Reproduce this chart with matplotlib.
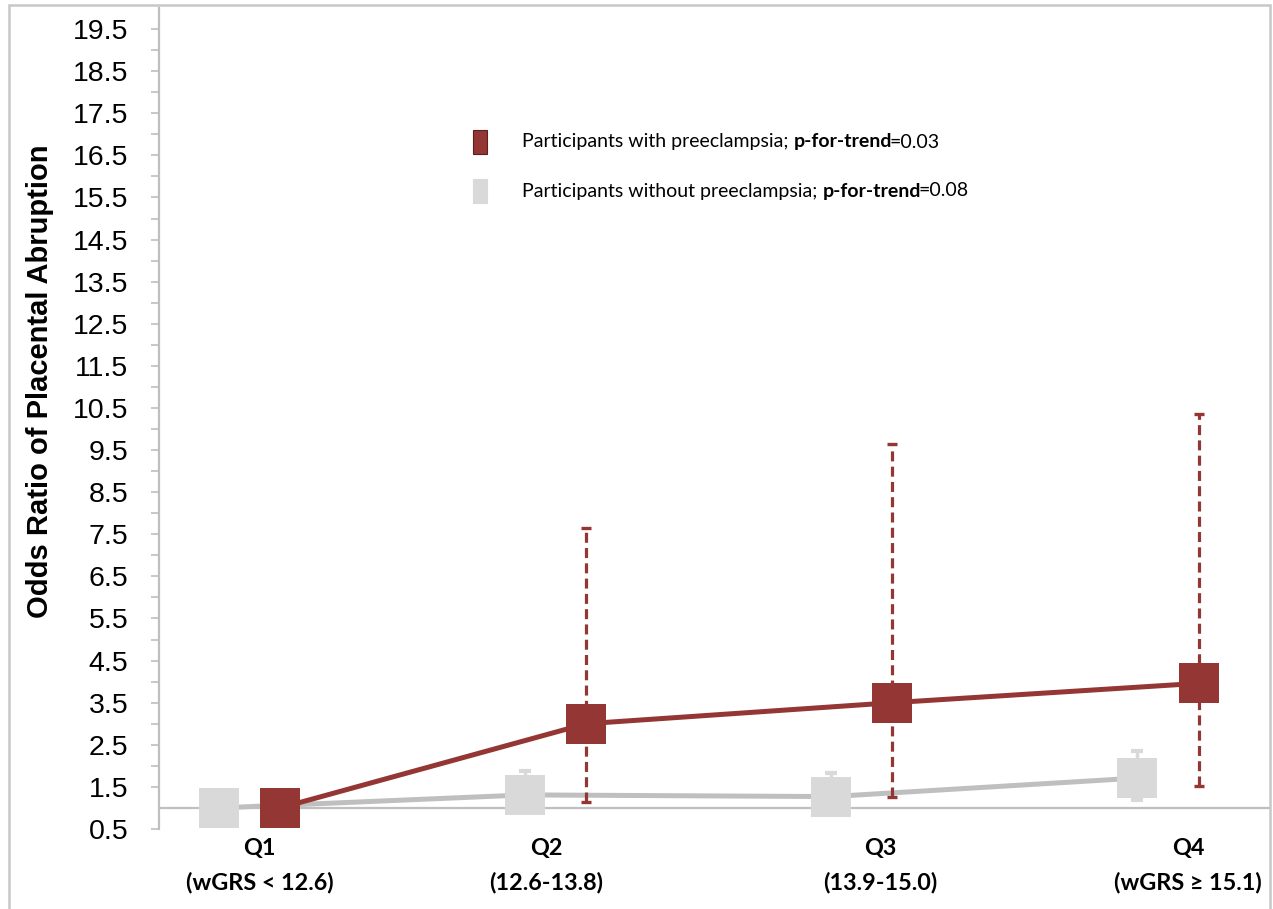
import matplotlib
matplotlib.use("Agg")
import matplotlib.pyplot as plt
from matplotlib.patches import Rectangle
from matplotlib.ticker import FixedLocator, FuncFormatter

plt.rcParams["lines.scale_dashes"] = False

# ---- data -------------------------------------------------------------
quartiles = ["Q1", "Q2", "Q3", "Q4"]
quartile_ranges = ["(wGRS < 12.6)", "(12.6-13.8)", "(13.9-15.0)", "(wGRS \u2265 15.1)"]

or_with_pe = [1.0, 3.0, 3.5, 3.96]
ci_low_with_pe = [None, 1.14, 1.26, 1.52]
ci_high_with_pe = [None, 7.66, 9.65, 10.36]

or_without_pe = [1.0, 1.31, 1.27, 1.71]
ci_low_without_pe = [None, 1.0, 1.0, 1.19]
ci_high_without_pe = [None, 1.88, 1.83, 2.35]

legend_labels = [
    ("Participants with preeclampsia; ", "p-for-trend", "=0.03"),
    ("Participants without preeclampsia; ", "p-for-trend", "=0.08"),
]
y_label = "Odds Ratio of Placental Abruption"

# ---- style ------------------------------------------------------------
RED = "#943634"
GREY_MARK = "#d9d9d9"
GREY_LINE = "#bfbfbf"
AXIS_GREY = "#bfbfbf"
W, H = 1273, 909

fig = plt.figure(figsize=(W / 100, H / 100), dpi=100)
ax = fig.add_axes([159 / W, 1 - 829 / H, (1270 - 159) / W, (829 - 8) / H])

x = list(range(len(quartiles)))
off = 0.1
x_grey = [i - off for i in x]
x_red = [i + off for i in x]

# series without preeclampsia
ax.plot(x_grey, or_without_pe, color=GREY_LINE, lw=3.6, zorder=3,
        solid_capstyle="butt")
eb_idx = [i for i in x if ci_low_without_pe[i] is not None]
ax.errorbar([x_grey[i] for i in eb_idx], [or_without_pe[i] for i in eb_idx],
            yerr=[[or_without_pe[i] - ci_low_without_pe[i] for i in eb_idx],
                  [ci_high_without_pe[i] - or_without_pe[i] for i in eb_idx]],
            fmt="none", ecolor=GREY_MARK, elinewidth=2.5, capsize=4,
            capthick=3, zorder=3)
ax.plot(x_grey, or_without_pe, ls="none", marker="s", ms=28.5, mew=0,
        color=GREY_MARK, zorder=4)

# series with preeclampsia
ax.plot(x_red, or_with_pe, color=RED, lw=3.6, zorder=5,
        solid_capstyle="butt")
eb_idx = [i for i in x if ci_low_with_pe[i] is not None]
_, caps, bars = ax.errorbar(
    [x_red[i] for i in eb_idx], [or_with_pe[i] for i in eb_idx],
    yerr=[[or_with_pe[i] - ci_low_with_pe[i] for i in eb_idx],
          [ci_high_with_pe[i] - or_with_pe[i] for i in eb_idx]],
    fmt="none", ecolor=RED, elinewidth=2.3, capsize=3.4, capthick=2.4,
    zorder=5)
for b in bars:
    b.set_linestyle((0, (7.2, 3.8)))
ax.plot(x_red, or_with_pe, ls="none", marker="s", ms=28.5, mew=0,
        color=RED, zorder=6)

# ---- axes -------------------------------------------------------------
ax.set_xlim(-0.295, 3.333)
ax.set_ylim(0.5, 20.0)
for s in ("top", "right"):
    ax.spines[s].set_visible(False)
ax.spines["bottom"].set_position(("data", 1.0))
ax.spines["bottom"].set_color(AXIS_GREY)
ax.spines["bottom"].set_linewidth(1.6)
ax.spines["left"].set_color(AXIS_GREY)
ax.spines["left"].set_linewidth(1.6)
ax.spines["bottom"].set_zorder(1)

ax.set_xticks([])
ax.yaxis.set_major_locator(FixedLocator([v + 0.5 for v in range(20)]))
ax.yaxis.set_minor_locator(FixedLocator([float(v) for v in range(2, 20)]))
ax.yaxis.set_major_formatter(FuncFormatter(lambda v, p: f"{v:.1f}"))
ax.tick_params(axis="y", which="both", direction="out", length=6,
               width=1.2, color=AXIS_GREY)
ax.tick_params(axis="y", which="major", pad=16, labelsize=20.5)
for lab in ax.get_yticklabels():
    lab.set_family("Liberation Sans")

fig.text(40 / W, 1 - 381 / H, y_label, rotation=90, ha="center",
         va="center", family="Liberation Sans", fontweight="bold",
         fontsize=21)

# category labels under the axis
label_shift = [0.033, -0.03, 0.06, 0.065]
for i, (q, r) in enumerate(zip(quartiles, quartile_ranges)):
    ax.annotate(q, xy=(x[i] + label_shift[i], 0.5), xytext=(0, -13.7),
                textcoords="offset points", ha="center", va="center",
                family=["Lato", "DejaVu Sans"], fontweight="bold",
                fontsize=16.8, annotation_clip=False)
    ax.annotate(r, xy=(x[i] + label_shift[i], 0.5), xytext=(0, -38.2),
                textcoords="offset points", ha="center", va="center",
                family=["Lato", "DejaVu Sans"], fontweight="bold",
                fontsize=16.8, annotation_clip=False)

# legend
legend_rows = [(RED, 142, "#5a1f1e"), (GREY_MARK, 191, GREY_MARK)]
for (col, yc, edge), parts in zip(legend_rows, legend_labels):
    fig.patches.append(Rectangle((473 / W, 1 - (yc + 12) / H), 14 / W, 24 / H,
                                 transform=fig.transFigure, facecolor=col,
                                 edgecolor=edge, lw=0.8))
    t1 = fig.text(522 / W, 1 - yc / H, parts[0], va="center", ha="left",
                  family="Lato", fontsize=14)
    t2 = ax.annotate(parts[1], xy=(1, 0), xycoords=t1, va="bottom",
                     ha="left", family="Lato", fontweight="bold",
                     fontsize=14, annotation_clip=False)
    ax.annotate(parts[2], xy=(1, 0), xycoords=t2, xytext=(-1.5, 0),
                textcoords="offset points", va="bottom", ha="left",
                family="Lato", fontsize=14, annotation_clip=False)

# outer frame
fig.patches.append(Rectangle((9 / W, -0.01), (1270 - 9) / W, 1 - 5 / H + 0.01,
                             transform=fig.transFigure, fill=False,
                             edgecolor="#c8c8c8", lw=1.8))

fig.savefig("out.png", dpi=100)
